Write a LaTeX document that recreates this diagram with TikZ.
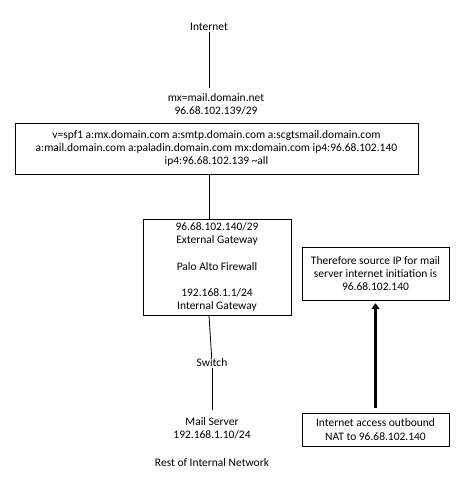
\documentclass[tikz,border=0pt]{standalone}
\usepackage{fontspec}
\setmainfont{Carlito}
\usetikzlibrary{arrows.meta,positioning}

\begin{document}
\begin{tikzpicture}[x=0.03cm,y=-0.03cm,
  lbl/.style={align=center,inner sep=1pt,font=\fontsize{9.8}{11.3}\selectfont},
  box/.style={lbl,draw,line width=0.7pt},
  wire/.style={draw,line width=0.7pt},
  natarrow/.style={draw,line width=2pt,-{Triangle[length=5pt,width=7pt]}}
]
\useasboundingbox (0,0) rectangle (468,497);

% upstream side
\node[lbl] (internet) at (209,27) {Internet};
\node[lbl] (mx) at (216,104) {mx=mail.domain.net\\96.68.102.139/29};
\node[box,minimum width=12.09cm,minimum height=1.53cm] (spf) at (216.5,148.5)
  {v=spf1 a:mx.domain.com a:smtp.domain.com a:scgtsmail.domain.com\\
   a:mail.domain.com a:paladin.domain.com mx:domain.com ip4:96.68.102.140\\
   ip4:96.68.102.139 \textasciitilde all};

% firewall and inside
\node[box,minimum width=4.44cm,minimum height=2.88cm] (fw) at (217,267)
  {96.68.102.140/29\\External Gateway\\[\baselineskip]Palo Alto Firewall\\[\baselineskip]192.168.1.1/24\\Internal Gateway};
\node[lbl] (switch) at (212,363) {Switch};
\node[lbl] (mail) at (212,428.5) {Mail Server\\192.168.1.10/24};
\node[lbl] (rest) at (212,463) {Rest of Internal Network};

% NAT note
\node[box,minimum width=4.41cm,minimum height=1.59cm] (source) at (375.5,273.5)
  {Therefore source IP for mail\\server internet initiation is\\96.68.102.140};
\node[box,minimum width=4.41cm,minimum height=0.99cm] (nat) at (375.5,429.5)
  {Internet access outbound\\NAT to 96.68.102.140};

\draw[wire,shorten >=3pt] (internet) -- (mx.north -| internet);
\draw[wire] (spf.south -| internet) -- (fw.north -| internet);
\draw[wire] (fw.south -| internet) -- (switch);
\draw[wire,shorten >=5pt] (switch) -- (mail);
\draw[natarrow,shorten <=4pt,shorten >=2.5pt] (nat) -- (source);
\end{tikzpicture}
\end{document}
